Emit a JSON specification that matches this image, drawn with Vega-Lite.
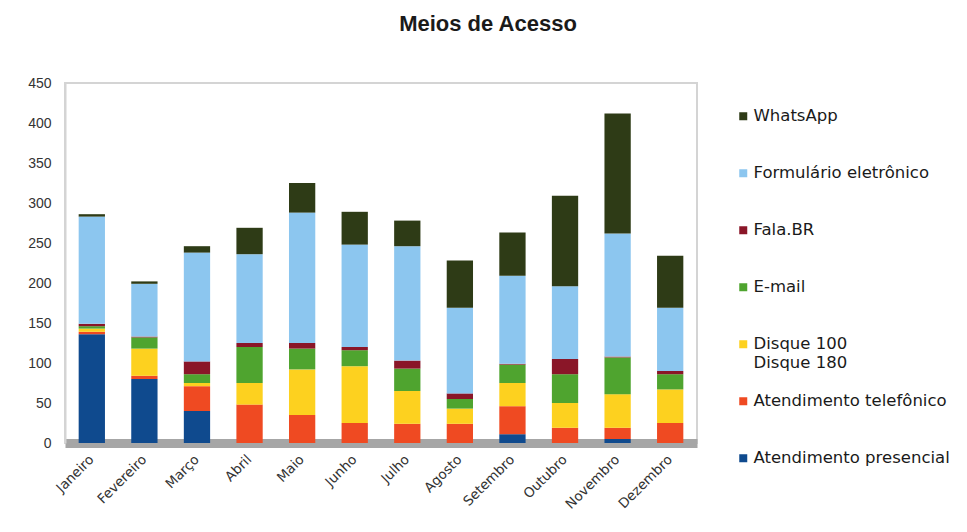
{
  "$schema": "https://vega.github.io/schema/vega-lite/v6.json",
  "autosize": "none",
  "width": 632,
  "height": 360,
  "padding": {"left": 65, "top": 83, "right": 270, "bottom": 89},
  "background": "white",
  "title": {
    "text": "Meios de Acesso",
    "font": "Liberation Sans",
    "fontSize": 22,
    "fontWeight": "bold",
    "color": "#1a1a1a",
    "anchor": "middle",
    "dx": 107,
    "offset": 40
  },
  "config": {
    "font": "Liberation Sans",
    "view": {"stroke": "#d4d4d4", "strokeWidth": 2}
  },
  "data": {
    "values": [
      {"mes": "Janeiro", "meio": "Atendimento presencial", "ordem": 1, "n": 136},
      {"mes": "Janeiro", "meio": "Atendimento telefônico", "ordem": 2, "n": 3},
      {"mes": "Janeiro", "meio": "Disque 100 Disque 180", "ordem": 3, "n": 4},
      {"mes": "Janeiro", "meio": "E-mail", "ordem": 4, "n": 3},
      {"mes": "Janeiro", "meio": "Fala.BR", "ordem": 5, "n": 3},
      {"mes": "Janeiro", "meio": "Formulário eletrônico", "ordem": 6, "n": 134},
      {"mes": "Janeiro", "meio": "WhatsApp", "ordem": 7, "n": 3},

      {"mes": "Fevereiro", "meio": "Atendimento presencial", "ordem": 1, "n": 80},
      {"mes": "Fevereiro", "meio": "Atendimento telefônico", "ordem": 2, "n": 4},
      {"mes": "Fevereiro", "meio": "Disque 100 Disque 180", "ordem": 3, "n": 34},
      {"mes": "Fevereiro", "meio": "E-mail", "ordem": 4, "n": 14},
      {"mes": "Fevereiro", "meio": "Fala.BR", "ordem": 5, "n": 1},
      {"mes": "Fevereiro", "meio": "Formulário eletrônico", "ordem": 6, "n": 66},
      {"mes": "Fevereiro", "meio": "WhatsApp", "ordem": 7, "n": 3},

      {"mes": "Março", "meio": "Atendimento presencial", "ordem": 1, "n": 40},
      {"mes": "Março", "meio": "Atendimento telefônico", "ordem": 2, "n": 31},
      {"mes": "Março", "meio": "Disque 100 Disque 180", "ordem": 3, "n": 4},
      {"mes": "Março", "meio": "E-mail", "ordem": 4, "n": 11},
      {"mes": "Março", "meio": "Fala.BR", "ordem": 5, "n": 16},
      {"mes": "Março", "meio": "Formulário eletrônico", "ordem": 6, "n": 136},
      {"mes": "Março", "meio": "WhatsApp", "ordem": 7, "n": 8},

      {"mes": "Abril", "meio": "Atendimento presencial", "ordem": 1, "n": 0},
      {"mes": "Abril", "meio": "Atendimento telefônico", "ordem": 2, "n": 48},
      {"mes": "Abril", "meio": "Disque 100 Disque 180", "ordem": 3, "n": 27},
      {"mes": "Abril", "meio": "E-mail", "ordem": 4, "n": 45},
      {"mes": "Abril", "meio": "Fala.BR", "ordem": 5, "n": 5},
      {"mes": "Abril", "meio": "Formulário eletrônico", "ordem": 6, "n": 111},
      {"mes": "Abril", "meio": "WhatsApp", "ordem": 7, "n": 33},

      {"mes": "Maio", "meio": "Atendimento presencial", "ordem": 1, "n": 0},
      {"mes": "Maio", "meio": "Atendimento telefônico", "ordem": 2, "n": 35},
      {"mes": "Maio", "meio": "Disque 100 Disque 180", "ordem": 3, "n": 57},
      {"mes": "Maio", "meio": "E-mail", "ordem": 4, "n": 26},
      {"mes": "Maio", "meio": "Fala.BR", "ordem": 5, "n": 7},
      {"mes": "Maio", "meio": "Formulário eletrônico", "ordem": 6, "n": 163},
      {"mes": "Maio", "meio": "WhatsApp", "ordem": 7, "n": 37},

      {"mes": "Junho", "meio": "Atendimento presencial", "ordem": 1, "n": 0},
      {"mes": "Junho", "meio": "Atendimento telefônico", "ordem": 2, "n": 25},
      {"mes": "Junho", "meio": "Disque 100 Disque 180", "ordem": 3, "n": 71},
      {"mes": "Junho", "meio": "E-mail", "ordem": 4, "n": 20},
      {"mes": "Junho", "meio": "Fala.BR", "ordem": 5, "n": 4},
      {"mes": "Junho", "meio": "Formulário eletrônico", "ordem": 6, "n": 128},
      {"mes": "Junho", "meio": "WhatsApp", "ordem": 7, "n": 41},

      {"mes": "Julho", "meio": "Atendimento presencial", "ordem": 1, "n": 0},
      {"mes": "Julho", "meio": "Atendimento telefônico", "ordem": 2, "n": 24},
      {"mes": "Julho", "meio": "Disque 100 Disque 180", "ordem": 3, "n": 41},
      {"mes": "Julho", "meio": "E-mail", "ordem": 4, "n": 28},
      {"mes": "Julho", "meio": "Fala.BR", "ordem": 5, "n": 10},
      {"mes": "Julho", "meio": "Formulário eletrônico", "ordem": 6, "n": 143},
      {"mes": "Julho", "meio": "WhatsApp", "ordem": 7, "n": 32},

      {"mes": "Agosto", "meio": "Atendimento presencial", "ordem": 1, "n": 0},
      {"mes": "Agosto", "meio": "Atendimento telefônico", "ordem": 2, "n": 24},
      {"mes": "Agosto", "meio": "Disque 100 Disque 180", "ordem": 3, "n": 19},
      {"mes": "Agosto", "meio": "E-mail", "ordem": 4, "n": 12},
      {"mes": "Agosto", "meio": "Fala.BR", "ordem": 5, "n": 7},
      {"mes": "Agosto", "meio": "Formulário eletrônico", "ordem": 6, "n": 107},
      {"mes": "Agosto", "meio": "WhatsApp", "ordem": 7, "n": 59},

      {"mes": "Setembro", "meio": "Atendimento presencial", "ordem": 1, "n": 11},
      {"mes": "Setembro", "meio": "Atendimento telefônico", "ordem": 2, "n": 35},
      {"mes": "Setembro", "meio": "Disque 100 Disque 180", "ordem": 3, "n": 29},
      {"mes": "Setembro", "meio": "E-mail", "ordem": 4, "n": 23},
      {"mes": "Setembro", "meio": "Fala.BR", "ordem": 5, "n": 1},
      {"mes": "Setembro", "meio": "Formulário eletrônico", "ordem": 6, "n": 110},
      {"mes": "Setembro", "meio": "WhatsApp", "ordem": 7, "n": 54},

      {"mes": "Outubro", "meio": "Atendimento presencial", "ordem": 1, "n": 0},
      {"mes": "Outubro", "meio": "Atendimento telefônico", "ordem": 2, "n": 19},
      {"mes": "Outubro", "meio": "Disque 100 Disque 180", "ordem": 3, "n": 31},
      {"mes": "Outubro", "meio": "E-mail", "ordem": 4, "n": 36},
      {"mes": "Outubro", "meio": "Fala.BR", "ordem": 5, "n": 19},
      {"mes": "Outubro", "meio": "Formulário eletrônico", "ordem": 6, "n": 91},
      {"mes": "Outubro", "meio": "WhatsApp", "ordem": 7, "n": 113},

      {"mes": "Novembro", "meio": "Atendimento presencial", "ordem": 1, "n": 5},
      {"mes": "Novembro", "meio": "Atendimento telefônico", "ordem": 2, "n": 14},
      {"mes": "Novembro", "meio": "Disque 100 Disque 180", "ordem": 3, "n": 42},
      {"mes": "Novembro", "meio": "E-mail", "ordem": 4, "n": 46},
      {"mes": "Novembro", "meio": "Fala.BR", "ordem": 5, "n": 1},
      {"mes": "Novembro", "meio": "Formulário eletrônico", "ordem": 6, "n": 154},
      {"mes": "Novembro", "meio": "WhatsApp", "ordem": 7, "n": 150},

      {"mes": "Dezembro", "meio": "Atendimento presencial", "ordem": 1, "n": 0},
      {"mes": "Dezembro", "meio": "Atendimento telefônico", "ordem": 2, "n": 25},
      {"mes": "Dezembro", "meio": "Disque 100 Disque 180", "ordem": 3, "n": 42},
      {"mes": "Dezembro", "meio": "E-mail", "ordem": 4, "n": 19},
      {"mes": "Dezembro", "meio": "Fala.BR", "ordem": 5, "n": 4},
      {"mes": "Dezembro", "meio": "Formulário eletrônico", "ordem": 6, "n": 79},
      {"mes": "Dezembro", "meio": "WhatsApp", "ordem": 7, "n": 65}
    ]
  },
  "mark": {"type": "bar", "stroke": null},
  "encoding": {
    "x": {
      "field": "mes",
      "type": "nominal",
      "sort": null,
      "scale": {"paddingInner": 0.5, "paddingOuter": 0.26},
      "axis": {
        "title": null,
        "labelAngle": -45,
        "labelAlign": "right",
        "labelBaseline": "middle",
        "labelFont": "DejaVu Sans",
        "labelFontSize": 13.5,
        "labelColor": "#333333",
        "labelPadding": 14,
        "ticks": false,
        "domainColor": "#a6a6a6",
        "domainWidth": 9
      }
    },
    "y": {
      "field": "n",
      "type": "quantitative",
      "stack": "zero",
      "scale": {"domain": [0, 450]},
      "axis": {
        "title": null,
        "values": [0, 50, 100, 150, 200, 250, 300, 350, 400, 450],
        "grid": false,
        "ticks": false,
        "labelFontSize": 14,
        "labelColor": "#333333",
        "labelPadding": 14,
        "domainColor": "#d4d4d4",
        "domainWidth": 2
      }
    },
    "order": {"field": "ordem", "type": "quantitative", "sort": "ascending"},
    "color": {
      "field": "meio",
      "type": "nominal",
      "scale": {
        "domain": ["WhatsApp", "Formulário eletrônico", "Fala.BR", "E-mail", "Disque 100 Disque 180", "Atendimento telefônico", "Atendimento presencial"],
        "range": ["#2e3b16", "#8cc6ef", "#8a1628", "#4fa42f", "#fdd11f", "#ef4a22", "#0f4a8e"]
      },
      "legend": {
        "title": null,
        "orient": "none",
        "legendX": 670,
        "legendY": 25,
        "direction": "vertical",
        "gridAlign": "all",
        "symbolType": "square",
        "symbolSize": 64,
        "symbolStrokeWidth": 0,
        "labelFont": "DejaVu Sans",
        "labelFontSize": 16.5,
        "labelColor": "#1a1a1a",
        "labelOffset": 2,
        "labelLimit": 260,
        "rowPadding": 21,
        "labelExpr": "datum.label == 'Disque 100 Disque 180' ? ['Disque 100', 'Disque 180'] : datum.label"
      }
    }
  }
}
